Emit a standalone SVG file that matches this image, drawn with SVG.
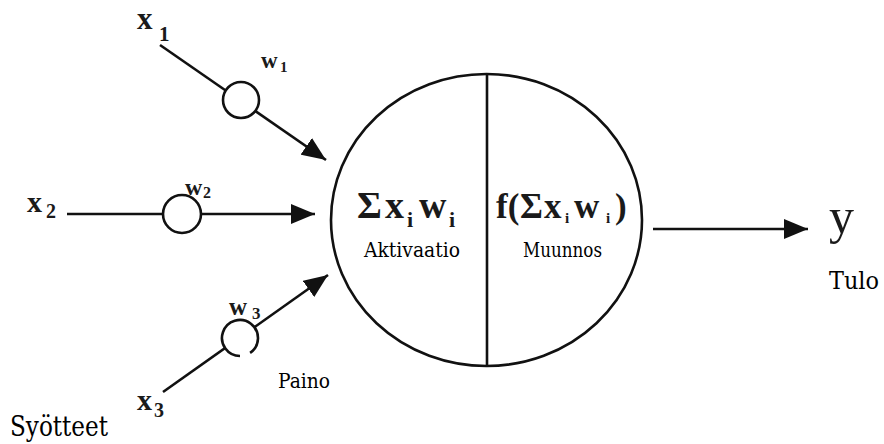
<svg xmlns="http://www.w3.org/2000/svg" width="884" height="444" viewBox="0 0 884 444">
<defs>
<style>
.ln{stroke:#111;stroke-width:2.6;fill:none}
.wc{stroke:#111;stroke-width:2.6;fill:#fff}
.lab{font-family:'DejaVu Serif Condensed','DejaVu Serif','Liberation Serif',serif;fill:#000}
</style>
<marker id="ah" markerUnits="userSpaceOnUse" markerWidth="24" markerHeight="20" refX="24" refY="10" orient="auto" viewBox="0 0 24 20">
<path d="M0,0 L24,10 L0,20 Z" fill="#111"/>
</marker>
</defs>
<rect width="884" height="444" fill="#fff"/>
<g id="connectors">
<line class="ln" x1="160" y1="45" x2="326" y2="160" marker-end="url(#ah)"/>
<line class="ln" x1="67" y1="214" x2="315" y2="214" marker-end="url(#ah)"/>
<line class="ln" x1="163" y1="392" x2="328" y2="275" marker-end="url(#ah)"/>
<line class="ln" x1="653" y1="229" x2="808" y2="229" marker-end="url(#ah)"/>
</g>
<g font-family="'Liberation Serif', 'DejaVu Serif', serif" fill="#1a1a1a">
<g id="input-x1"><text x="137" y="29" font-size="31" font-weight="bold">x</text><text x="159" y="41" font-size="21" font-weight="bold">1</text></g>
<g id="input-x2"><text x="27" y="212" font-size="30" font-weight="bold">x</text><text x="46" y="218" font-size="20" font-weight="bold">2</text></g>
<g id="input-x3"><text x="137" y="410" font-size="30" font-weight="bold">x</text><text x="154" y="417" font-size="20" font-weight="bold">3</text></g>
<g id="weight-w1"><circle class="wc" cx="241" cy="100" r="18"/><text x="261" y="68" font-size="23" font-weight="bold">w</text><text x="280" y="72" font-size="15" font-weight="bold">1</text></g>
<g id="weight-w2"><circle class="wc" cx="182" cy="214" r="19"/><text x="185" y="195" font-size="24" font-weight="bold">w</text><text x="203" y="198" font-size="16" font-weight="bold">2</text></g>
<g id="weight-w3"><path class="wc" d="M240,356 A18,18 0 1 1 250.1,352.9"/><text x="229" y="315" font-size="25" font-weight="bold">w</text><text x="252" y="319" font-size="17" font-weight="bold">3</text></g>
<g id="neuron">
<ellipse class="ln" cx="486.5" cy="220" rx="155.5" ry="146"/>
<line class="ln" x1="487" y1="74" x2="487" y2="366"/>
<text font-size="38" font-weight="bold" y="218"><tspan x="357">Σ</tspan><tspan x="385">x</tspan><tspan x="407" y="227" font-size="22">i</tspan><tspan x="419" y="218">w</tspan><tspan x="449" y="227" font-size="22">i</tspan></text>
<text class="lab" x="364" y="257" font-size="20" textLength="96" lengthAdjust="spacingAndGlyphs">Aktivaatio</text>
<text font-size="35" font-weight="bold" y="218"><tspan x="496">f(</tspan><tspan x="520">Σ</tspan><tspan x="544">x</tspan><tspan x="565" y="223" font-size="15">i</tspan><tspan x="574" y="218">w</tspan><tspan x="606" y="223" font-size="15">i</tspan><tspan x="615" y="218">)</tspan></text>
<text class="lab" x="523" y="257" font-size="20" textLength="79" lengthAdjust="spacingAndGlyphs">Muunnos</text>
</g>
<g id="output-y"><text x="829" y="233" font-size="50" font-weight="500">y</text><text class="lab" x="829" y="289" font-size="24" textLength="50" lengthAdjust="spacingAndGlyphs">Tulo</text></g>
<g id="label-paino"><text class="lab" x="278" y="388" font-size="21" textLength="52" lengthAdjust="spacingAndGlyphs">Paino</text></g>
<g id="label-syotteet"><text class="lab" x="10" y="436" font-size="28" textLength="98" lengthAdjust="spacingAndGlyphs">Syötteet</text></g>
</g>
</svg>
